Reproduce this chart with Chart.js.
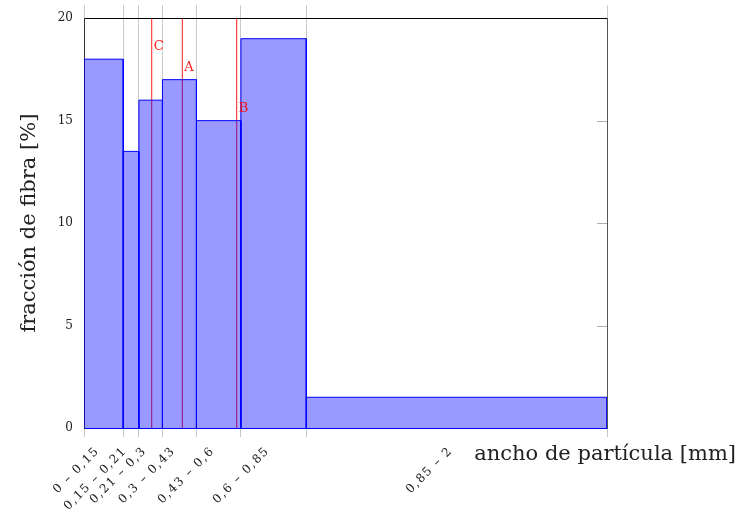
<!DOCTYPE html>
<html>
<head>
<meta charset="utf-8">
<script src="https://cdn.jsdelivr.net/npm/chart.js@4"></script>
<style>
  html, body { margin: 0; padding: 0; background: #fff; }
</style>
</head>
<body>
<canvas id="myChart" width="737" height="518"></canvas>
<script>
// particle width bins (mm) and fiber fraction (%) in each bin
let edges = [0, 0.15, 0.21, 0.3, 0.43, 0.6, 0.85, 2];
let fractions = [18, 13.5, 16, 17, 15, 19, 1.5];
let binLabels = ['0 – 0,15', '0,15 – 0,21', '0,21 – 0,3', '0,3 – 0,43', '0,43 – 0,6', '0,6 – 0,85', '0,85 – 2'];

// characteristic widths marked with red lines
let markNames = ['C', 'A', 'B'];
let markX = [0.259, 0.376, 0.584];
let markLabelY = [18.6, 17.6, 15.6];

let yTicks = [0, 5, 10, 15, 20];
let yMax = 20;

const serif = 'DejaVu Serif';
const gridGray = '#c8c8c8';

// bottom axis ticks: bin edges (grid lines) alternating with bin centres (labels)
let xTicks = [];
for (let i = 0; i < edges.length; i++) {
    xTicks.push(edges[i]);
    if (i < edges.length - 1) xTicks.push((edges[i] + edges[i + 1]) / 2);
}

let datasets = [];
for (let i = 0; i < fractions.length; i++) {
    datasets.push({
        data: [
            {x: edges[i], y: 0},
            {x: edges[i], y: fractions[i]},
            {x: edges[i + 1], y: fractions[i]},
            {x: edges[i + 1], y: 0}
        ],
        borderColor: '#0000ff',
        backgroundColor: 'rgba(0, 0, 255, 0.4)',
        borderWidth: 1,
        fill: 'origin',
        pointRadius: 0,
        tension: 0
    });
}
for (let i = 0; i < markX.length; i++) {
    datasets.push({
        data: [{x: markX[i], y: 0}, {x: markX[i], y: yMax}],
        borderColor: 'rgba(255, 0, 0, 0.9)',
        borderWidth: 1,
        fill: false,
        pointRadius: 0
    });
}

// inward ticks on the right axis, letters next to the red lines,
// wider spacing for the rotated bin labels and the x axis title
const extras = {
    id: 'extras',
    afterDatasetsDraw(chart) {
        let c = chart.ctx;
        let y = chart.scales.y;
        let x = chart.scales.x;
        let right = chart.chartArea.right;
        c.save();
        c.strokeStyle = '#b0b0b0';
        c.lineWidth = 1;
        for (let v of yTicks) {
            if (v === 0 || v === yMax) continue;
            let py = Math.round(y.getPixelForValue(v)) + 0.5;
            c.beginPath();
            c.moveTo(right - 10, py);
            c.lineTo(right, py);
            c.stroke();
        }
        c.fillStyle = 'rgba(255, 0, 0, 0.9)';
        c.font = '13px "' + serif + '"';
        c.textAlign = 'left';
        c.textBaseline = 'middle';
        for (let i = 0; i < markNames.length; i++) {
            c.fillText(markNames[i], x.getPixelForValue(markX[i]) + 2, y.getPixelForValue(markLabelY[i]));
        }
        c.restore();
        // x tick labels are drawn after this (ticks z = 1)
        c.letterSpacing = '1.5px';
    },
    afterDraw(chart) {
        let c = chart.ctx;
        c.letterSpacing = '0px';
        c.save();
        c.fillStyle = '#222';
        c.font = '21px "' + serif + '"';
        c.textAlign = 'right';
        c.textBaseline = 'middle';
        c.fillText('ancho de partícula [mm]', 736, 455);
        c.restore();
    }
};

let ctx = document.getElementById('myChart');
let myChart = new Chart(ctx, {
    type: 'line',
    data: { datasets: datasets },
    plugins: [extras],
    options: {
        responsive: false,
        animation: false,
        layout: { padding: 0 },
        plugins: {
            legend: { display: false },
            tooltip: { enabled: false }
        },
        scales: {
            x: {
                type: 'linear',
                position: 'bottom',
                min: 0,
                max: 2,
                afterBuildTicks: (s) => { s.ticks = xTicks.map(v => ({value: v})); },
                afterFit: (s) => { s.height = 90; },
                grid: {
                    color: (c) => (c.index % 2 === 0 ? gridGray : 'rgba(0,0,0,0)'),
                    tickColor: (c) => (c.index % 2 === 0 ? gridGray : 'rgba(0,0,0,0)'),
                    tickLength: 9
                },
                border: { color: '#0000ff' },
                ticks: {
                    z: 1,
                    autoSkip: false,
                    maxRotation: 45,
                    minRotation: 45,
                    padding: 7,
                    labelOffset: -6,
                    color: '#1a1a1a',
                    font: { family: serif, size: 12 },
                    callback: (v, i) => (i % 2 === 1 ? binLabels[(i - 1) / 2] : '')
                }
            },
            x2: {
                type: 'linear',
                position: 'top',
                min: 0,
                max: 2,
                afterBuildTicks: (s) => { s.ticks = edges.map(v => ({value: v})); },
                afterFit: (s) => { s.height = 18; },
                grid: { drawOnChartArea: false, color: gridGray, tickLength: 13 },
                border: { color: '#000' },
                ticks: { display: false }
            },
            y: {
                position: 'left',
                min: 0,
                max: yMax,
                afterBuildTicks: (s) => { s.ticks = yTicks.map(v => ({value: v})); },
                afterFit: (s) => { s.width = 84; },
                grid: { display: false, drawTicks: false },
                border: { color: '#333' },
                ticks: {
                    padding: 11,
                    color: '#222',
                    font: { family: serif, size: 12 }
                },
                title: {
                    display: true,
                    text: 'fracción de fibra [%]',
                    color: '#222',
                    font: { family: serif, size: 21 },
                    padding: { top: 17 }
                }
            },
            y2: {
                position: 'right',
                min: 0,
                max: yMax,
                afterFit: (s) => { s.width = 130; },
                grid: { display: false },
                border: { color: '#555' },
                ticks: { display: false }
            }
        }
    }
});
</script>
</body>
</html>
